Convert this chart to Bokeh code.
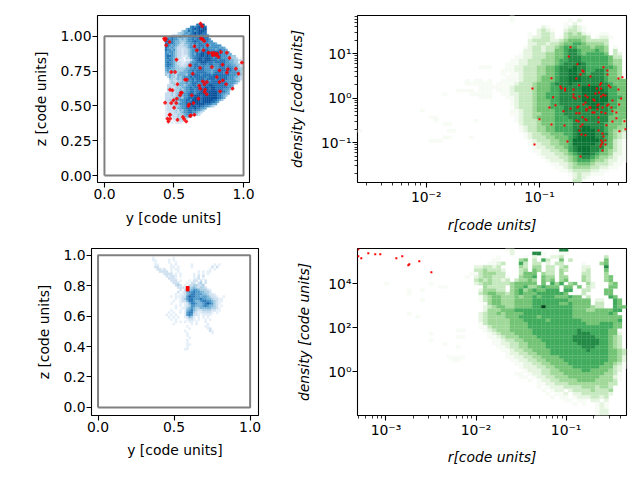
from bokeh.embed import file_html
from bokeh.resources import INLINE
from bokeh.layouts import column, row
from bokeh.models import FixedTicker
from bokeh.plotting import figure

greens = ['#f7fcf5','#e5f5e0','#c7e9c0','#a1d99b','#74c476','#41ab5d','#238b45','#0a7434','#00441b']
blues = ['#f7fbff','#deebf7','#c6dbef','#9ecae1','#6baed6','#4292c6','#2171b5','#08519c','#08306b']
blues_thin = ['#e6f0f9','#cfe1f2','#abd0e6','#7db7da','#4f9bcb','#2b7bba','#0f5aa3','#08306b','#08306b']

box_x = [0, 1, 1, 0, 0]
box_y = [0, 0, 1, 1, 0]

# top-left map: levels, rows from the top, cell 0.015, first column x=0.42, first row top y=1.12
tl_rows = [
"",
"",
"................7788",
".............67678887",
"...........5667878788",
".........455767678887",
".......34456567878877",
"....233445656778787776",
"..56766565556677788877",
".6767665454566767788776",
".77676554445667877677766",
".7767655434556676776766665",
".776565433445657677766566666",
".76565433334566767676766666565",
".766564332334566776677666567665",
".6566543323345667678777677766655",
".66565433233456577887877677766655",
".6776543322245667788787776776665544",
".67665433213356778878887677766654443",
".667654322.223567887888777677766554433",
".67665433223356677888777677777665544",
".6776543323356677677767766677766655443",
".6766544333456677767666666677767665543",
".56655444445566767776666566777677655443",
".5645544445566767777666566777777766554",
".4545444555566767777766567777677666654",
".4354435555466777767777677777777666544",
"..354435456667677777767777677776665543",
"...44345456666767777677776777776665443",
"...3433445466676777777677777776666654",
"...344345556567776777777777777766654",
"..33343455456677677777887777776665",
"..34334445566767777788788777777665",
"..4433445456677677888878877776664",
"..334344555667767788788888777765",
".3334345456677767888878888776655",
".333434555667778887888888877654",
".33334455466777888788888887765",
".3343455666776888878888877654",
".33343545667678888788887765",
".3334345666778878888777655",
".233344456677788787766543",
".23334355667777877665",
".2333343546677676654",
".223334345667766543",
".22333344456665543",
".2223334345554",
".22223344343",
"..2212233322",
"..212.2221",
]

# bottom-left map: levels, rows from the top, cell 0.015, first column x=0.34, first row top y=0.99
bl_rows = [
".1........1",
".11.....1.1",
"..1.....1..1",
"..11.....1.1......1.........1.1",
"..22.....11.1.....1........2.2",
"...2212..1.11.............1.1",
"....2222.1..1........1.1.11",
"......2222.1.1.....1.1.1.1",
".......21221.1.....1.2.2",
"........2221.......112.1",
".........222.1...1.22.2.2",
"..........222...1.22.23.2",
"...........232.1.2233223",
"............2221233432332",
".............2.233455433321",
"............2.1245565544332",
"...........1.1124566555443221",
".........1.1112257665545543221..1",
"...........1.1235665556554432211",
"..........1..1224665445665543211",
".........1...1.1246654456765321",
"...........1.1.123554445654432.1",
"...........1..11345433444443321",
".........1...1.1456432233332211",
"........1.1..1.1566321122221.1",
".......1.1.1...1565221.1111",
"........1.1.1..12431.1.1.1",
".........1.1....1221.1..1.1",
"...........1.1.1.11.1...1",
"..........1.......1.1....1",
"................1.......11",
".................1.......12",
"...............1..........21",
"................1..........1",
"................1",
".................1",
"................1",
"................1",
"................11",
"................1",
"...............11",
]

# top-right histogram: levels, rows from the top, columns 30 to 59 of 60
tr_rows = [
"....1 ..... ..... ..... ..... .....",
"....1 ..... ..... ..1.2 ..... .....",
"..... ..... ..... .1.2. ..... .....",
"..... ..... .21.. .1232 1.... .....",
"..... ..... 2321. .2332 1.... .....",
"..... ...1. 2332. .3434 21..1 1....",
"..... ...12 2332. 13444 43.12 21...",
"..... ...23 33322 34555 43333 3....",
"..... ...22 33233 45566 54444 3....",
"..... ..123 32334 56665 55455 4.1..",
"..... ..223 32335 56776 55565 4.3..",
"..... .1223 33445 56776 56666 5.32.",
"..... 11223 33445 56777 66666 6533.",
"....1 12233 34445 66777 66666 6544.",
"...11 12233 34445 67778 76666 6544.",
"...11 22333 44556 77787 76666 6654.",
"..111 22333 44556 77887 76677 6554.",
"..1.1 12333 44556 77887 76777 6554.",
"...11 12333 45556 77888 77777 6554.",
"..111 12333 45556 77888 77777 65555",
".1111 23334 55567 77877 77777 76555",
"11112 33334 55566 77777 88887 76655",
".1112 33334 55566 77777 88888 76655",
"..112 23334 55666 77777 88888 86655",
"...11 23334 55666 77777 88888 86665",
"....1 23334 55566 77777 88888 86655",
"....1 23334 55566 77777 78888 76655",
"..... 23334 55566 67777 77887 76655",
"....1 12334 55556 67777 77777 76555",
"....1 12334 45556 67777 77777 76555",
"..... 12334 55556 66777 77777 75555",
"..... 12333 45556 66677 77777 75554",
"..... .2333 45556 66677 77777 65554",
"..... .1233 44556 66677 88777 65544",
"..... .1233 44556 66678 88877 65443",
"..... ..123 34455 56678 88877 75432",
"..... ..123 33445 55678 88877 65432",
"..... ...12 33344 55688 88887 65321",
"..... ...12 23344 55688 88877 65321",
"..... ....1 22334 45678 88777 55321",
"..... ....1 12233 44678 88776 54321",
"..... ..... 12223 34567 88765 54221",
"..... ..... .1222 33456 77654 43211",
"..... ..... ..122 23456 66544 32211",
"..... ..... ...11 22345 55433 3211.",
"..... ..... ....1 12344 44332 211..",
"..... ..... ..... 11233 33221 1....",
"..... ..... ..... ..123 22111 .....",
"..... ..... ..... ...23 21... .....",
"..... ..... ..... ...33 ..... .....",
]
# faint cells left of column 30: row -> columns
tr_far = {15: [27, 28, 29], 19: [24, 26, 27, 29], 20: [24, 25, 26, 27, 28, 29], 21: [27, 28, 29], 22: [22, 23, 24, 25, 27, 28, 29],
          23: [19, 25, 26, 27, 28, 29], 24: [27, 28, 29], 28: [14], 30: [16, 17], 31: [17, 26], 32: [19, 20], 34: [0, 20, 21], 36: [19, 20, 25], 37: [16, 17, 18]}

# bottom-right histogram: levels, rows from the top, columns 20 to 59 of 60
br_rows = [
"..... ..... ...12 ..... ..... 77... ..... .....",
"..... ..... ....2 ....7 71... 11... ..... .....",
"..... ..... .1... ..1.2 .1.22 3.... ..... 3....",
"..... ..... 11... .45.3 .63.. 5.3.. ..... 5....",
"..... ....1 123.. .63.3 3.2.3 3.... 1...4 5....",
"..... .2233 23... .43.4 4.33. 34... 22... 7....",
"..... .3343 332.. .34.5 4.33. 43... 23... 5....",
"..... 11344 433.. .3555 .433. 4.... 33... 4....",
"....1 .2344 3331. .4556 .544. 44... 43... 45...",
"..... .3434 3323. 34454 .545. 45... 43... 45...",
"..... .2344 33334 55555 .5.64 6.45. .42.. .45..",
"..... ...43 333.4 55644 56555 .55.5 .32.. .55..",
"..... ..244 433.4 56456 55666 .66.. 33... 55...",
"..... ..345 54434 56555 66666 65... 3.... 55...",
"..... ..134 55444 54556 56665 55655 .3... .65..",
"..... ..134 55444 55556 66666 66555 55.22 ..65.",
"..... ...14 55444 55556 66666 55655 55.33 ..65.",
"..... ...23 45544 55556 69666 66655 55433 ..655",
"..... ...24 44555 66666 66666 66655 54455 5566.",
"..... ..234 45455 55666 66666 66655 55555 565..",
"..... ..234 44455 56666 56666 66655 55555 5555.",
"..... ..234 44445 55666 66566 66666 55555 5556.",
"..... ..134 44445 55566 66666 66666 65556 6655.",
"..... ..113 44445 55566 66666 66666 66666 6655.",
"..11. ...12 34445 55556 66666 66667 66666 6551.",
"..... ....1 23444 55556 66666 66667 77666 6552.",
"..11. ....1 12344 45555 66666 66677 77766 6543.",
"..... ..... 11233 44555 56666 66677 77776 6543.",
"..... ..... 11223 34455 55666 66667 77776 6543.",
"..1.. ..... .1123 34455 55666 66666 77766 6543.",
"..... ..... ..112 33445 55566 66666 67666 65543",
"..... ..... ...12 23344 55566 66666 66666 65543",
"1111. ..... ...11 22334 45555 66666 66666 65542",
".11.. ..... ....1 12233 44555 56666 66666 65542",
"..... ..... ..... 11223 34455 55666 66666 55431",
"..... ..... ..... .1222 33445 55566 66665 55321",
"..... ..... ..... ..122 23344 55555 66555 5432.",
"..... ..... ..... 11.12 23344 45555 55555 4431.",
"..... ..... ..... .11.1 22334 44555 55554 4421.",
"..... ..... ..... ...1. 12233 44445 55544 4431.",
"..... ..... ..... ..... 11223 33444 44444 433..",
"..... ..... ..... ..... 1.122 23333 44434 43...",
"..... ..... ..... ..... .1.12 2.233 33433 34...",
"..... ..... ..... ..... ..1.1 12.22 33333 32...",
"..... ..... ..... ..... ...1. 11.12 22332 3....",
"..... ..... ..... ..... ..... .11.1 1.22. 2....",
"..... ..... ..... ..... ..... ...1. 1..12 1....",
"..... ..... ..... ..... ..... ..... ...12 1....",
"..... ..... ..... ..... ..... ..... ...12 2....",
"..... ..... ..... ..... ..... ..... ...12 2....",
]
# faint cells left of column 20: row -> columns
br_far = {10: [6, 16], 11: [19, 18], 12: [14, 11], 13: [11], 15: [14], 19: [11], 20: [13], 25: [16], 27: [16], 28: [19]}

tr_red_logx = [-.726,-.741,-.665,-.435,-.400,-.621,-.612,-.638,-.400,-.550,-.268,-.303,-.894,-.674,-.456,-.465,-.650,-.562,-.388,-.374,-.815,-.806,-.774,-.774,-1.062,-.700,-.494,-.456,-.303,-.474,-.506,-.700,-.594,-.438,-.418,-.700,-.456,-.647,-.576,-.879,-.682,-.279,-.524,-.515,-.356,-.594,-.612,-.479,-.488,-.403,-.391,-.297,-.859,-.656,-.665,-.559,-.550,-.444,-.365,-.912,-.488,-.726,-.585,-.585,-.788,-.674,-.647,-.532,-.515,-.453,-.418,-.356,-.321,-.621,-.479,-.321,-1.0,-.674,-.656,-.594,-.585,-.479,-.356,-.25,-.894,-.779,-.638,-.621,-.409,-.241,-.647,-.479,-.294,-.444,-.629,-.594,-.435,-.753,-.453,-.418,-.444,-1.044,-.453,-.418,-.462,-.444,-.638]
tr_red_logy = [1.146,.936,.764,.697,.622,.622,.599,.532,.532,.487,.472,.442,.449,.442,.337,.300,.292,.292,.285,.247,.262,.225,.210,.172,.217,.195,.217,.217,.195,.127,.105,.082,.060,.075,.060,.022,.037,.037,.022,.022,-.007,-.007,-.030,-.052,-.052,-.097,-.142,-.142,-.165,-.165,-.142,-.142,-.157,-.187,-.210,-.210,-.210,-.210,-.210,-.210,-.247,-.232,-.240,-.277,-.292,-.337,-.337,-.322,-.322,-.315,-.337,-.292,-.322,-.427,-.434,-.449,-.472,-.502,-.524,-.472,-.494,-.539,-.524,-.517,-.592,-.614,-.637,-.592,-.607,-.697,-.727,-.727,-.742,-.794,-.816,-.831,-.861,-.974,-.951,-.951,-.996,-1.041,-1.041,-1.041,-1.086,-1.176,-1.311]
br_red_logx = [-3.307,-3.307,-3.274,-3.196,-3.119,-3.063,-2.885,-2.819,-2.752,-2.741,-2.630,-2.496]
br_red_logy = [5.561,5.242,5.152,5.379,5.333,5.333,5.152,5.242,4.833,4.879,5.015,4.515]
tl_red_x = [.691,.703,.429,.441,.436,.468,.705,.717,.695,.444,.647,.741,.664,.712,.748,.837,.880,.772,.789,.808,.779,.803,.820,.899,.518,.988,.849,.616,.688,.772,.827,.887,.945,.964,.480,.508,.635,.880,.808,.580,.592,.827,.851,.875,.707,.736,.719,.525,.472,.489,.681,.688,.724,.832,.921,.549,.556,.719,.736,.544,.628,.676,.520,.496,.436,.480,.516,.640,.609,.604,.501,.472,.468,.564,.621,.647,.453,.472,.525,.573,.460,.588,.616]
tl_red_y = [1.091,1.072,.983,.983,.971,.959,.978,.966,.983,.935,.928,.935,.899,.899,.882,.887,.882,.880,.880,.875,.863,.863,.851,.844,.832,.811,.796,.791,.772,.779,.755,.763,.767,.731,.743,.743,.731,.739,.707,.688,.688,.671,.683,.655,.676,.671,.655,.655,.616,.612,.645,.624,.616,.604,.624,.595,.595,.600,.583,.576,.576,.552,.552,.540,.523,.520,.520,.520,.511,.499,.487,.436,.436,.420,.432,.436,.408,.408,.400,.405,.388,.388,.427]
bl_red_x = [.584,.589,.594,.584,.589,.594,.584,.589,.594,.584,.589,.594]
bl_red_y = [.770,.770,.770,.777,.777,.777,.784,.784,.784,.791,.791,.791]

TR_X = (-2.606, -0.232); TR_Y = (1.858, -1.894)
BR_X = (-3.316, -0.330); BR_Y = (5.59, -1.986)


def fig(w, h, left, right, top, bottom, xr, yr, xlabel, ylabel, xlog=False, ylog=False, italic=False):
    p = figure(width=w, height=h, x_range=xr, y_range=yr,
               x_axis_type="log" if xlog else "linear", y_axis_type="log" if ylog else "linear",
               output_backend="svg", toolbar_location=None,
               min_border_left=left, min_border_right=right, min_border_top=top, min_border_bottom=bottom)
    p.grid.visible = False
    p.outline_line_color = "black"
    p.outline_line_width = 1.1
    p.background_fill_color = "white"
    p.border_fill_color = "white"
    for ax, lab in ((p.xaxis[0], xlabel), (p.yaxis[0], ylabel)):
        ax.axis_label = lab
        ax.axis_label_text_font = "DejaVu Sans"
        ax.axis_label_text_font_size = "13.9px"
        ax.axis_label_text_color = "black"
        ax.axis_label_text_font_style = "italic" if italic else "normal"
        ax.major_label_text_font = "DejaVu Sans"
        ax.major_label_text_font_size = "13.9px"
        ax.major_label_text_color = "black"
        ax.major_tick_out = 5; ax.major_tick_in = 0
        ax.minor_tick_out = 3; ax.minor_tick_in = 0
        ax.axis_line_color = None
        ax.major_tick_line_color = "black"
        ax.minor_tick_line_color = "black"
        ax.major_tick_line_width = 1.1
        ax.minor_tick_line_width = 0.8
        ax.major_label_standoff = 1
        ax.axis_label_standoff = 6
    return p


def cells_linear(p, rows, x0, ytop, d, pal):
    l, r, t, b, c = [], [], [], [], []
    for j, s in enumerate(rows):
        for i, ch in enumerate(s):
            if ch != ".":
                l.append(x0 + i * d); r.append(x0 + (i + 1) * d)
                t.append(ytop - j * d); b.append(ytop - (j + 1) * d)
                c.append(pal[int(ch) - 1])
    p.quad(left=l, right=r, top=t, bottom=b, fill_color=c, line_color=c, line_width=0.2)


def cells_log(p, rows, far, first, xs, ys, pal, nx=60, ny=50):
    dx = (xs[1] - xs[0]) / nx
    dy = (ys[1] - ys[0]) / ny
    l, r, t, b, c = [], [], [], [], []
    for j, s in enumerate(rows):
        cols = {first + i: ch for i, ch in enumerate(s.replace(" ", "")) if ch != "."}
        for i in far.get(j, []):
            cols[i] = "1"
        for i, ch in cols.items():
            if i < nx:
                l.append(10 ** (xs[0] + i * dx)); r.append(10 ** (xs[0] + (i + 1) * dx))
                t.append(10 ** (ys[0] + j * dy)); b.append(10 ** (ys[0] + (j + 1) * dy))
                c.append(pal[int(ch) - 1])
    p.quad(left=l, right=r, top=t, bottom=b, fill_color=c, line_color=c, line_width=0.2)


def decade_minors(lo, hi):
    return [m * 10.0 ** e for e in range(lo, hi) for m in (1, 2, 3, 4, 5, 6, 7, 8, 9)]


# top left
p1 = fig(270, 240, 97, 21, 15, 58, (-0.05, 1.043), (-0.05, 1.149), "y [code units]", "z [code units]")
cells_linear(p1, tl_rows, 0.42, 1.12, 0.015, blues)
p1.line(box_x, box_y, line_color="#808080", line_width=2)
p1.scatter(tl_red_x, tl_red_y, marker="plus", size=3, line_color="red", fill_color="red", line_width=0.7, alpha=0.85)
p1.xaxis[0].ticker = FixedTicker(ticks=[0, 0.5, 1], minor_ticks=[])
p1.yaxis[0].ticker = FixedTicker(ticks=[0, 0.25, 0.5, 0.75, 1], minor_ticks=[])
p1.xaxis[0].major_label_overrides = {0: "0.0", 0.5: "0.5", 1: "1.0"}
p1.yaxis[0].major_label_overrides = {0: "0.00", 0.25: "0.25", 0.5: "0.50", 0.75: "0.75", 1: "1.00"}
p1.yaxis[0].axis_label_standoff = 9
p1.xaxis[0].axis_label_standoff = 8

# top right
p2 = fig(370, 240, 87, 14, 15, 58, (10 ** TR_X[0], 10 ** TR_X[1]), (10 ** TR_Y[1], 10 ** TR_Y[0]),
         "r[code units]", "density [code units]", True, True, True)
cells_log(p2, tr_rows, tr_far, 30, TR_X, TR_Y, greens)
p2.scatter([10 ** v for v in tr_red_logx], [10 ** v for v in tr_red_logy], marker="square", size=2, color="red", line_color=None)
p2.xaxis[0].ticker = FixedTicker(ticks=[0.01, 0.1], minor_ticks=decade_minors(-3, 0))
p2.yaxis[0].ticker = FixedTicker(ticks=[0.1, 1, 10], minor_ticks=decade_minors(-2, 2))
p2.xaxis[0].major_label_overrides = {0.01: "10⁻²", 0.1: "10⁻¹"}
p2.yaxis[0].major_label_overrides = {0.1: "10⁻¹", 1: "10⁰", 10: "10¹"}
p2.yaxis[0].axis_label_standoff = 13
p2.xaxis[0].axis_label_standoff = 9

# bottom left
p3 = fig(270, 240, 91, 12, 8, 65, (-0.043, 1.055), (-0.053, 1.044), "y [code units]", "z [code units]")
cells_linear(p3, bl_rows, 0.34, 0.99, 0.015, blues_thin)
p3.line(box_x, box_y, line_color="#808080", line_width=2)
p3.scatter(bl_red_x, bl_red_y, marker="square", size=2, color="red", line_color=None)
p3.xaxis[0].ticker = FixedTicker(ticks=[0, 0.5, 1], minor_ticks=[])
p3.yaxis[0].ticker = FixedTicker(ticks=[0, 0.2, 0.4, 0.6, 0.8, 1], minor_ticks=[])
p3.xaxis[0].major_label_overrides = {0: "0.0", 0.5: "0.5", 1: "1.0"}
p3.yaxis[0].major_label_overrides = {0: "0.0", 0.2: "0.2", 0.4: "0.4", 0.6: "0.6", 0.8: "0.8", 1: "1.0"}
p3.yaxis[0].axis_label_standoff = 8
p3.xaxis[0].axis_label_standoff = 7

# bottom right
p4 = fig(370, 240, 87, 14, 8, 65, (10 ** BR_X[0], 10 ** BR_X[1]), (10 ** BR_Y[1], 10 ** BR_Y[0]),
         "r[code units]", "density [code units]", True, True, True)
cells_log(p4, br_rows, br_far, 20, BR_X, BR_Y, greens)
p4.scatter([10 ** v for v in br_red_logx], [10 ** v for v in br_red_logy], marker="square", size=2, color="red", line_color=None)
p4.xaxis[0].ticker = FixedTicker(ticks=[0.001, 0.01, 0.1], minor_ticks=decade_minors(-4, 0))
p4.yaxis[0].ticker = FixedTicker(ticks=[1, 100, 10000], minor_ticks=[])
p4.xaxis[0].major_label_overrides = {0.001: "10⁻³", 0.01: "10⁻²", 0.1: "10⁻¹"}
p4.yaxis[0].major_label_overrides = {1: "10⁰", 100: "10²", 10000: "10⁴"}
p4.yaxis[0].axis_label_standoff = 13
p4.xaxis[0].axis_label_standoff = 8

layout = column(row(p1, p2), row(p3, p4))
open("out.html", "w").write(file_html(layout, INLINE))
